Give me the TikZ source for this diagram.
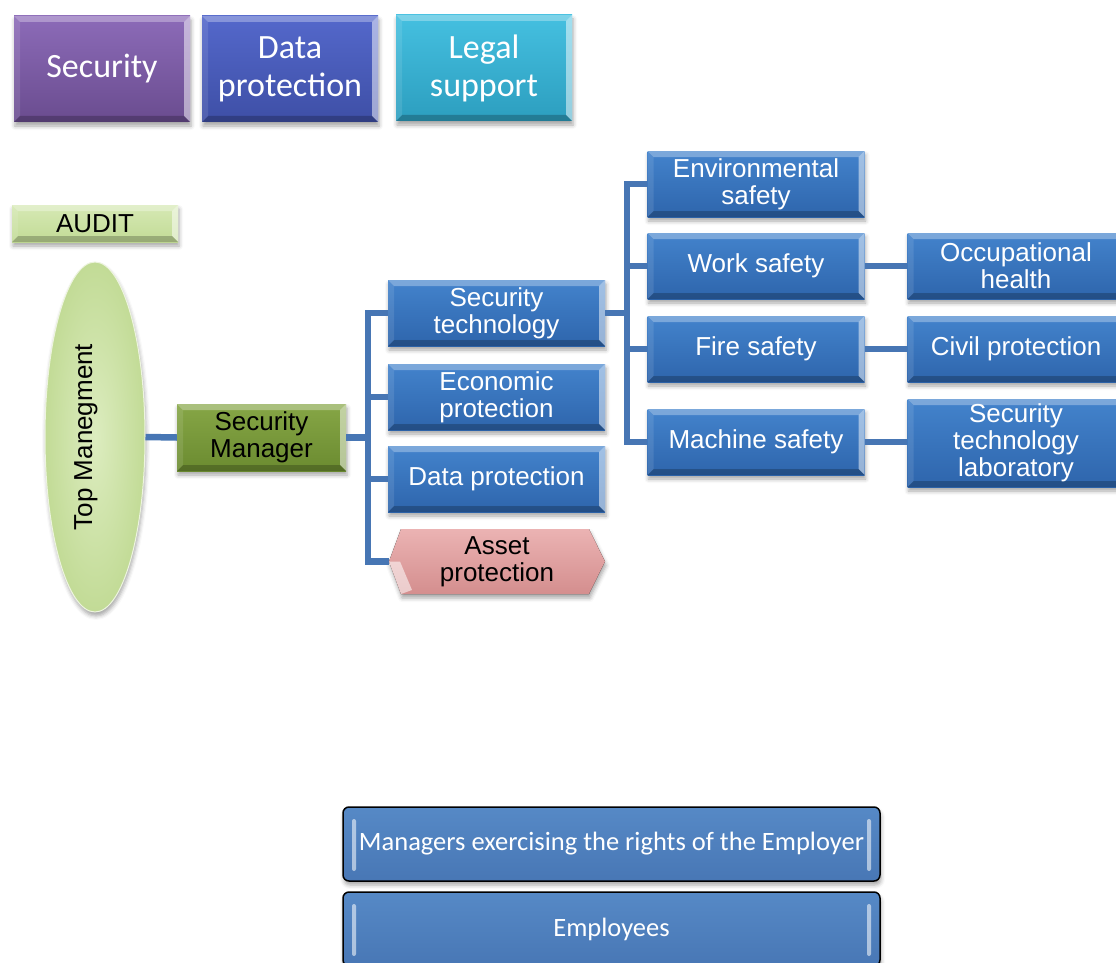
\documentclass[tikz,border=0pt]{standalone}
\usepackage{fontspec}
\setmainfont{Liberation Sans}
\newfontfamily\calfont{Carlito}
\usetikzlibrary{shadows.blur,shapes.geometric}

\definecolor{linkblue}{HTML}{4776B4}
\definecolor{bxtop}{HTML}{4383CC}
\definecolor{bxbot}{HTML}{2E65AC}
\definecolor{purtop}{HTML}{8C6BB8}
\definecolor{purbot}{HTML}{6A4C8F}
\definecolor{dptop}{HTML}{5468CB}
\definecolor{dpbot}{HTML}{3E4FA6}
\definecolor{tealtop}{HTML}{45C0E0}
\definecolor{tealbot}{HTML}{2C9EBF}
\definecolor{olivetop}{HTML}{86A646}
\definecolor{olivebot}{HTML}{6B8B30}
\definecolor{lgtop}{HTML}{D6E9B4}
\definecolor{lgbot}{HTML}{C2DB96}
\definecolor{pinktop}{HTML}{EBB3B3}
\definecolor{pinkbot}{HTML}{D48E8E}
\definecolor{emptop}{HTML}{5689C6}
\definecolor{empbot}{HTML}{4877B5}

\tikzset{
  conn/.style={draw=linkblue, line width=6.5pt},
  bevelfx/.style={path picture={
    \path (path picture bounding box.north west) coordinate (bnw)
          (path picture bounding box.north east) coordinate (bne)
          (path picture bounding box.south east) coordinate (bse)
          (path picture bounding box.south west) coordinate (bsw);
    \fill[white,opacity=.30] (bnw) -- (bne) -- ([shift={(-6pt,-6pt)}]bne) -- ([shift={(6pt,-6pt)}]bnw) -- cycle;
    \fill[white,opacity=.50] (bne) -- (bse) -- ([shift={(-6pt,6pt)}]bse) -- ([shift={(-6pt,-6pt)}]bne) -- cycle;
    \fill[black,opacity=.22] (bse) -- (bsw) -- ([shift={(6pt,6pt)}]bsw) -- ([shift={(-6pt,6pt)}]bse) -- cycle;
    \fill[white,opacity=.10] (bsw) -- (bnw) -- ([shift={(6pt,-6pt)}]bnw) -- ([shift={(6pt,6pt)}]bsw) -- cycle;
  }},
  softshadow/.style={blur shadow={shadow xshift=1pt, shadow yshift=-4pt, shadow blur radius=4pt, shadow opacity=35}},
  box/.style={rectangle, bevelfx, softshadow, align=center, inner sep=2pt},
  bluebox/.style={box, top color=bxtop, bottom color=bxbot, text=white,
    minimum width=217pt, minimum height=66pt, font=\fontsize{26}{27}\selectfont},
  headbox/.style={box, text=white, minimum width=176pt, minimum height=106pt,
    font=\calfont\fontsize{34}{38}\selectfont},
  greenbox/.style={box, top color=lgtop, bottom color=lgbot, text=black,
    font=\fontsize{26}{27}\selectfont},
  staffbox/.style={rectangle, rounded corners=6pt, draw=black, line width=1.5pt,
    top color=emptop, bottom color=empbot, text=white, softshadow,
    minimum width=537pt, minimum height=74pt, font=\calfont\fontsize{26.5}{30}\selectfont,
    path picture={
      \fill[white,opacity=.55,rounded corners=2pt]
        ([shift={(9pt,-12pt)}]path picture bounding box.north west) rectangle
        ([shift={(13pt,10pt)}]path picture bounding box.south west);
      \fill[white,opacity=.55,rounded corners=2pt]
        ([shift={(-9pt,-12pt)}]path picture bounding box.north east) rectangle
        ([shift={(-13pt,10pt)}]path picture bounding box.south east);
    }},
  assetfill/.style={top color=pinktop, bottom color=pinkbot, softshadow},
}

\begin{document}
\begin{tikzpicture}[x=1pt,y=-1pt]
\useasboundingbox (0,0) rectangle (1116,963);

% department header tiles
\node[headbox, top color=purtop, bottom color=purbot] (hsec) at (102,69) {Security};
\node[headbox, top color=dptop, bottom color=dpbot] (hdata) at (290,69) {Data\\protection};
\node[headbox, top color=tealtop, bottom color=tealbot] (hlegal) at (484,68) {Legal\\support};

% audit and top management
\node[greenbox, minimum width=166pt, minimum height=37pt] (audit) at (95,223.5) {AUDIT};
\node[ellipse, rotate=90, minimum width=350pt, minimum height=100pt,
      inner color=lgtop!85!white, outer color=lgbot, draw=white!70!lgbot, line width=1pt,
      softshadow] (tm) at (95,437) {};
\node[rotate=90, font=\fontsize{26}{27}\selectfont] (tmlabel) at (86,437) {Top Manegment};

% security manager
\node[box, top color=olivetop, bottom color=olivebot, text=black,
      minimum width=169pt, minimum height=67pt, font=\fontsize{26}{27}\selectfont]
      (sm) at (261.5,437.5) {Security\\Manager};

% second level
\node[bluebox] (st) at (496.5,313) {Security\\technology};
\node[bluebox] (ep) at (496.5,397) {Economic\\protection};
\node[bluebox] (dp) at (496.5,479) {Data protection};
\fill[assetfill] (389,561.5) -- (401,529) -- (589,529) -- (605,561.5) -- (589,594) -- (401,594) -- cycle;
\fill[white,opacity=.55] (389,561.5) -- (401,594) -- (412,590) -- (400,561.5) -- cycle;
\node[align=center, text=black, minimum width=216pt, minimum height=65pt, inner sep=2pt,
      font=\fontsize{26}{27}\selectfont] (ap) at (497,561.5) {Asset\\protection};

% third level
\node[bluebox] (env) at (756,184) {Environmental\\safety};
\node[bluebox] (ws) at (756,266) {Work safety};
\node[bluebox] (fs) at (756,349) {Fire safety};
\node[bluebox] (ms) at (756,442) {Machine safety};

% fourth level
\node[bluebox] (oh) at (1016,266) {Occupational\\health};
\node[bluebox] (cp) at (1016,349) {Civil protection};
\node[bluebox, minimum height=88pt] (stl) at (1016,443) {Security\\technology\\laboratory};

% staff layers
\node[staffbox] (mgr) at (611.5,844) {Managers exercising the rights of the Employer};
\node[staffbox] (emp) at (611.5,929) {Employees};

% connectors
\coordinate (busa) at (368,437.5);
\coordinate (busb) at (627,313);
\draw[conn] (tm.south) -- (sm.west);
\draw[conn] (sm.east) -- (busa);
\draw[conn] (busa) |- (st.west);
\draw[conn] (busa) |- (ep.west);
\draw[conn] (busa) |- (dp.west);
\draw[conn] (busa) |- (ap.west);
\draw[conn] (st.east) -- (busb);
\draw[conn] (busb) |- (env.west);
\draw[conn] (busb) |- (ws.west);
\draw[conn] (busb) |- (fs.west);
\draw[conn] (busb) |- (ms.west);
\draw[conn] (ws.east) -- (oh.west);
\draw[conn] (fs.east) -- (cp.west);
\draw[conn] (ms.east) -- (ms.east -| stl.west);
\end{tikzpicture}
\end{document}
